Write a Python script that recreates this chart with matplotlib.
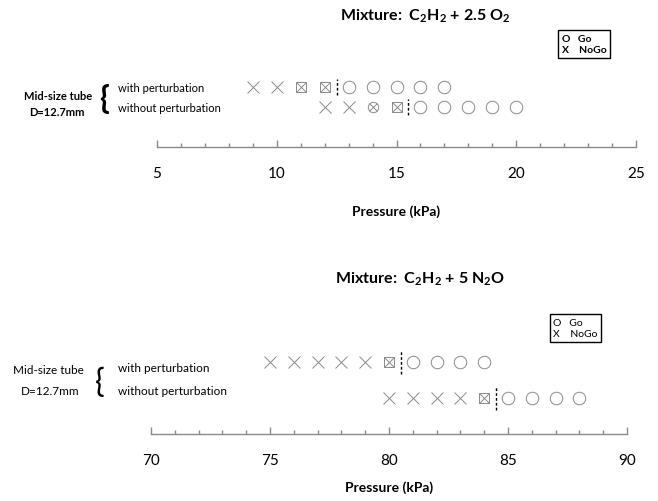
import matplotlib
matplotlib.use("Agg")
import matplotlib.pyplot as plt
from matplotlib.ticker import MultipleLocator

plt.rcParams['font.family'] = ['Lato', 'DejaVu Sans']
plt.rcParams['mathtext.fontset'] = 'custom'
plt.rcParams['mathtext.rm'] = 'Lato'
plt.rcParams['mathtext.bf'] = 'Lato:bold'

# data: pressure (kPa) and outcome per test
# X = NoGo, O = Go, XS = X in square, XO = X in circle
o2_with_p = [9, 10, 11, 12, 13, 14, 15, 16, 17]
o2_with_r = ['X', 'X', 'XS', 'XS', 'O', 'O', 'O', 'O', 'O']
o2_with_limit = 12.5
o2_without_p = [12, 13, 14, 15, 16, 17, 18, 19, 20]
o2_without_r = ['X', 'X', 'XO', 'XS', 'O', 'O', 'O', 'O', 'O']
o2_without_limit = 15.5

n2o_with_p = [75, 76, 77, 78, 79, 80, 81, 82, 83, 84]
n2o_with_r = ['X', 'X', 'X', 'X', 'X', 'XS', 'O', 'O', 'O', 'O']
n2o_with_limit = 80.5
n2o_without_p = [80, 81, 82, 83, 84, 85, 86, 87, 88]
n2o_without_r = ['X', 'X', 'X', 'X', 'XS', 'O', 'O', 'O', 'O']
n2o_without_limit = 84.5

W, H = 658, 502
fig = plt.figure(figsize=(W / 100, H / 100), dpi=100)

def fx(px):
    return px / W

def fy(py):
    return 1 - py / H

GRAY = '#8a8a8a'

def draw_row(ax, pressures, results, yrow, limit, half):
    for p, r in zip(pressures, results):
        if r == 'O':
            ax.plot(p, yrow, 'o', ms=9, mfc='none', mec=GRAY, mew=0.7)
        elif r == 'X':
            ax.plot(p, yrow, 'x', ms=9, mec=GRAY, mew=0.7)
        elif r == 'XS':
            ax.plot(p, yrow, 's', ms=7, mfc='none', mec=GRAY, mew=0.7)
            ax.plot(p, yrow, 'x', ms=7, mec=GRAY, mew=0.7)
        elif r == 'XO':
            ax.plot(p, yrow, 'o', ms=7.5, mfc='none', mec=GRAY, mew=0.7)
            ax.plot(p, yrow, 'x', ms=5.5, mec=GRAY, mew=0.7)
    ax.plot([limit, limit], [yrow - half, yrow + half], color='black',
            lw=1, ls=(0, (2, 1.5)))

def style_axis(ax, lo, hi, ylo, yhi):
    ax.set_xlim(lo, hi)
    ax.set_ylim(ylo, yhi)
    for s in ['left', 'right', 'top']:
        ax.spines[s].set_visible(False)
    ax.spines['bottom'].set_color(GRAY)
    ax.spines['bottom'].set_linewidth(1.0)
    ax.set_yticks([])
    ax.xaxis.set_major_locator(MultipleLocator(5))
    ax.xaxis.set_minor_locator(MultipleLocator(1))
    ax.tick_params(axis='x', which='major', direction='in', length=5,
                   color=GRAY, width=1, pad=14, labelsize=11)
    ax.tick_params(axis='x', which='minor', direction='in', length=3,
                   color=GRAY, width=1)
    ax.patch.set_visible(False)

# ---- top panel: C2H2 + 2.5 O2
ax1 = fig.add_axes([fx(157), fy(148), fx(636) - fx(157), fy(70) - fy(148)])
style_axis(ax1, 5, 25, -2, 1.9)
draw_row(ax1, o2_with_p, o2_with_r, 1, o2_with_limit, 0.42)
draw_row(ax1, o2_without_p, o2_without_r, 0, o2_without_limit, 0.42)
ax1.set_xlabel('Pressure (kPa)', fontsize=10, fontweight='bold', labelpad=17)

fig.text(fx(425), fy(16), r'Mixture:  C$_\mathbf{2}$H$_\mathbf{2}$ + 2.5 O$_\mathbf{2}$',
         ha='center', va='center', fontsize=11.5, fontweight='bold')
fig.text(fx(562), fy(45), 'O   Go\nX    NoGo', ha='left', va='center',
         fontsize=7.5, fontweight='bold', linespacing=1.35,
         bbox=dict(boxstyle='square,pad=0.35', fc='white', ec='black', lw=1))
fig.text(fx(58), fy(96), 'Mid-size tube', ha='center', va='center',
         fontsize=8, fontweight='bold')
fig.text(fx(57), fy(112), 'D=12.7mm', ha='center', va='center',
         fontsize=8, fontweight='bold')
fig.text(fx(104), fy(99), '{', ha='center', va='center', fontsize=23,
         fontweight='bold')
fig.text(fx(118), fy(88), 'with perturbation', ha='left', va='center', fontsize=8)
fig.text(fx(118), fy(108), 'without perturbation', ha='left', va='center', fontsize=8)

# ---- bottom panel: C2H2 + 5 N2O
ax2 = fig.add_axes([fx(151), fy(435), fx(627) - fx(151), fy(330) - fy(435)])
style_axis(ax2, 70, 90, -1, 1.92)
draw_row(ax2, n2o_with_p, n2o_with_r, 1, n2o_with_limit, 0.33)
draw_row(ax2, n2o_without_p, n2o_without_r, 0, n2o_without_limit, 0.33)
ax2.set_xlabel('Pressure (kPa)', fontsize=10, fontweight='bold', labelpad=9)

fig.text(fx(420), fy(279), r'Mixture:  C$_\mathbf{2}$H$_\mathbf{2}$ + 5 N$_\mathbf{2}$O',
         ha='center', va='center', fontsize=11.5, fontweight='bold')
fig.text(fx(553), fy(329), 'O   Go\nX    NoGo', ha='left', va='center',
         fontsize=7.5, linespacing=1.4,
         bbox=dict(boxstyle='square,pad=0.3', fc='white', ec='black', lw=1))
fig.text(fx(48), fy(370), 'Mid-size tube', ha='center', va='center', fontsize=8.5)
fig.text(fx(50), fy(392), 'D=12.7mm', ha='center', va='center', fontsize=8.5)
fig.text(fx(100), fy(383), '{', ha='center', va='center', fontsize=23)
fig.text(fx(118), fy(369), 'with perturbation', ha='left', va='center', fontsize=8.5)
fig.text(fx(118), fy(392), 'without perturbation', ha='left', va='center', fontsize=8.5)

fig.savefig('out.png', dpi=100)
